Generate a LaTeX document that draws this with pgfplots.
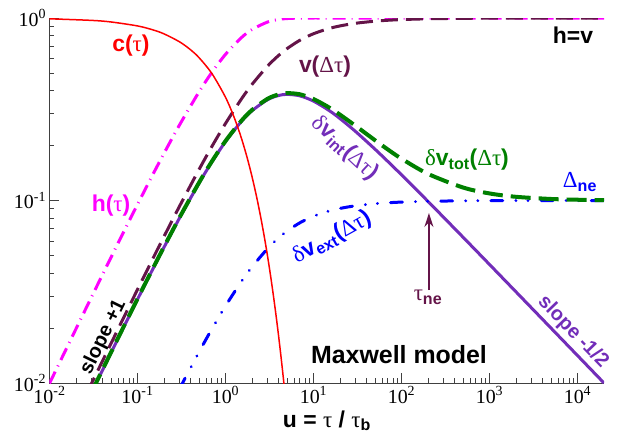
\documentclass[border=0pt]{standalone}
\usepackage{pgfplots}
\pgfplotsset{compat=1.18}
\usepackage{fontspec}
\setmainfont{Liberation Serif}
\newfontfamily\hv{Liberation Sans}
\usetikzlibrary{arrows.meta}
\definecolor{cmag}{RGB}{255,0,255}
\definecolor{cmar}{RGB}{100,20,72}
\definecolor{cpur}{RGB}{114,45,185}
\definecolor{cgrn}{RGB}{0,128,0}
\definecolor{cblu}{RGB}{0,0,255}
\definecolor{cred}{RGB}{255,0,0}
\newcommand\gt{{\rmfamily\mdseries τ}}
\newcommand\gD{{\rmfamily\mdseries Δ}}
\newcommand\gd{{\rmfamily\mdseries δ}}
\newcommand\lab{\hv\bfseries\fontsize{23}{26}\selectfont}
\newcommand\sub[1]{\textsubscript{\hv\bfseries #1}}
\begin{document}
\begin{tikzpicture}
\begin{axis}[
  scale only axis, width=554.5bp, height=365bp,
  at={(0,0)}, anchor=south west,
  xmode=log, ymode=log,
  xmin=0.01, xmax=20000, ymin=0.01, ymax=1,
  axis x line*=bottom, axis y line*=left,
  axis line style={black!75, line width=0.8bp},
  tick align=inside,
  major tick length=10bp, minor tick length=5bp,
  every tick/.style={black!75, line width=0.8bp},
  xtick={0.01,0.1,1,10,100,1000,10000},
  xticklabels={10\textsuperscript{-2},10\textsuperscript{-1},10\textsuperscript{0},10\textsuperscript{1},10\textsuperscript{2},10\textsuperscript{3},10\textsuperscript{4}},
  ytick={0.01,0.1,1},
  yticklabels={10\textsuperscript{-2},10\textsuperscript{-1},10\textsuperscript{0}},
  ticklabel style={font=\fontsize{20}{22}\selectfont},
  clip=true,
]
% h(tau)
\addplot[cmag, line width=3bp, smooth, dash pattern=on 13bp off 6bp on 1bp off 6bp] coordinates {
(0.01,0.00995)(0.015,0.014888)(0.02,0.019801)(0.03,0.029554)(0.05,0.048771)(0.07,0.067606)
(0.1,0.095163)(0.15,0.139292)(0.2,0.181269)(0.3,0.259182)(0.5,0.393469)(0.7,0.503415)
(1,0.632121)(1.5,0.77687)(2,0.864665)(3,0.950213)(4,0.981684)(5,0.993262)(7,0.999088)
(10,0.999955)(20,1)(20000,1)};
% v(Delta tau)
\addplot[cmar, line width=3bp, smooth, dash pattern=on 17bp off 8bp] coordinates {
(0.02,0.006633)(0.03,0.009925)(0.05,0.01646)(0.07,0.02293)(0.1,0.03252)(0.15,0.04818)
(0.2,0.06346)(0.3,0.09293)(0.5,0.14776)(0.7,0.19761)(1,0.26424)(1.5,0.35722)(2,0.43233)
(3,0.54449)(4,0.62271)(5,0.67946)(7,0.75507)(10,0.82)(15,0.87556)(20,0.905)(30,0.93556)
(50,0.9608)(70,0.97184)(100,0.9802)(200,0.99005)(500,0.99601)(1000,0.998)(2000,0.999)
(5000,0.9996)(10000,0.9998)(20000,0.9999)};
% delta v_int
\addplot[cpur, line width=3bp, smooth] coordinates {
(0.03,0.008844)(0.05,0.014631)(0.07,0.020332)(0.1,0.028725)(0.15,0.0423)(0.2,0.055379)
(0.3,0.080117)(0.5,0.12441)(0.7,0.16257)(1,0.2102)(1.5,0.26943)(2,0.31019)(3,0.35661)
(4,0.37606)(5,0.3816)(7,0.37438)(10,0.35042)(15,0.31152)(20,0.28116)(30,0.239)
(50,0.19104)(70,0.16362)(100,0.13825)(200,0.09888)(500,0.06296)(1000,0.044621)
(2000,0.031587)(5000,0.019991)(10000,0.014139)(20000,0.0099989)};
% delta v_ext
\addplot[cblu, line width=3bp, smooth, line cap=round, dash pattern=on 12bp off 13bp on 0.1bp off 12bp on 0.1bp off 13bp] coordinates {
(0.3,0.009293)(0.5,0.014776)(0.7,0.019761)(1,0.026424)(1.5,0.035722)(2,0.043233)
(3,0.054449)(4,0.062271)(5,0.067946)(7,0.075507)(10,0.082)(15,0.087556)(20,0.0905)
(30,0.093556)(50,0.09608)(70,0.097184)(100,0.09802)(200,0.099005)(500,0.099601)
(1000,0.0998)(2000,0.0999)(5000,0.09996)(10000,0.09998)(20000,0.09999)};
% delta v_tot
\addplot[cgrn, line width=4bp, smooth, dash pattern=on 20bp off 8bp] coordinates {
(0.03,0.0089)(0.05,0.014723)(0.07,0.020461)(0.1,0.028909)(0.15,0.042574)(0.2,0.055741)
(0.3,0.080654)(0.5,0.125284)(0.7,0.163767)(1,0.21185)(1.5,0.271784)(2,0.313188)
(3,0.360743)(4,0.381181)(5,0.387595)(7,0.381919)(10,0.359888)(15,0.323594)(20,0.295364)
(30,0.256659)(50,0.213843)(70,0.190302)(100,0.16947)(200,0.139923)(500,0.117832)
(1000,0.109321)(2000,0.104775)(5000,0.101939)(10000,0.100975)(20000,0.100489)};
% c(tau)
\addplot[cred, line width=1.5bp, smooth] coordinates {
(0.01,0.99005)(0.03,0.97045)(0.05,0.951229)(0.1,0.904837)(0.15,0.860708)(0.2,0.818731)
(0.3,0.740818)(0.4,0.67032)(0.5,0.606531)(0.7,0.496585)(1,0.367879)(1.25,0.286505)
(1.5,0.22313)(1.75,0.173774)(2,0.135335)(2.25,0.105399)(2.5,0.082085)(2.75,0.063928)
(3,0.049787)(3.25,0.038774)(3.5,0.030197)(3.75,0.023518)(4,0.018316)(4.25,0.014264)
(4.5,0.011109)(4.75,0.008652)(5,0.006738)};
% annotations
\draw[cmar, line width=1.5bp, -{Stealth[length=14bp,width=9bp]}] (axis cs:205,0.0323) -- (axis cs:205,0.0854);
\end{axis}
\begin{axis}[
  scale only axis, width=554.5bp, height=365bp,
  at={(0,0)}, anchor=south west,
  xmode=log, ymode=log,
  xmin=0.01, xmax=20000, ymin=0.01, ymax=1,
  hide axis, clip=false]
\node[cred] at (axis cs:0.0843,0.703) {\lab c(\gt)};
\node[cmag] at (axis cs:0.05,0.094) {\lab h(\gt)};
\node[cmar] at (axis cs:13.5,0.539) {\lab v(\gD\gt)};
\node[black] at (axis cs:8900,0.807) {\lab h=v};
\node[cpur, rotate=-43] at (axis cs:22.5,0.193) {\lab \gd v\sub{int}(\gD\gt)};
\node[cgrn] at (axis cs:555,0.1667) {\lab \gd v\sub{tot}(\gD\gt)};
\node[cblu] at (axis cs:10660,0.126) {\lab \gD\sub{ne}};
\node[cblu, rotate=29] at (axis cs:16.2,0.0625) {\lab \gd v\sub{ext}(\gD\gt)};
\node[cmar] at (axis cs:200,0.0296) {\lab \gt\sub{ne}};
\node[black, rotate=64] at (axis cs:0.041,0.0178) {\hv\bfseries\fontsize{20}{22}\selectfont slope +1};
\node[cpur, rotate=-46] at (axis cs:8895,0.019) {\hv\bfseries\fontsize{20}{22}\selectfont slope -1/2};
\node[black] at (axis cs:93.7,0.0144) {\hv\bfseries\fontsize{25}{28}\selectfont Maxwell model};
\node[black, anchor=base] at (axis cs:14.2,0.00574) {\lab u = \gt\ / \gt\sub{b}};
\end{axis}
\path (-49.5bp,-54bp) rectangle (571.5bp,383bp);
\end{tikzpicture}
\end{document}
